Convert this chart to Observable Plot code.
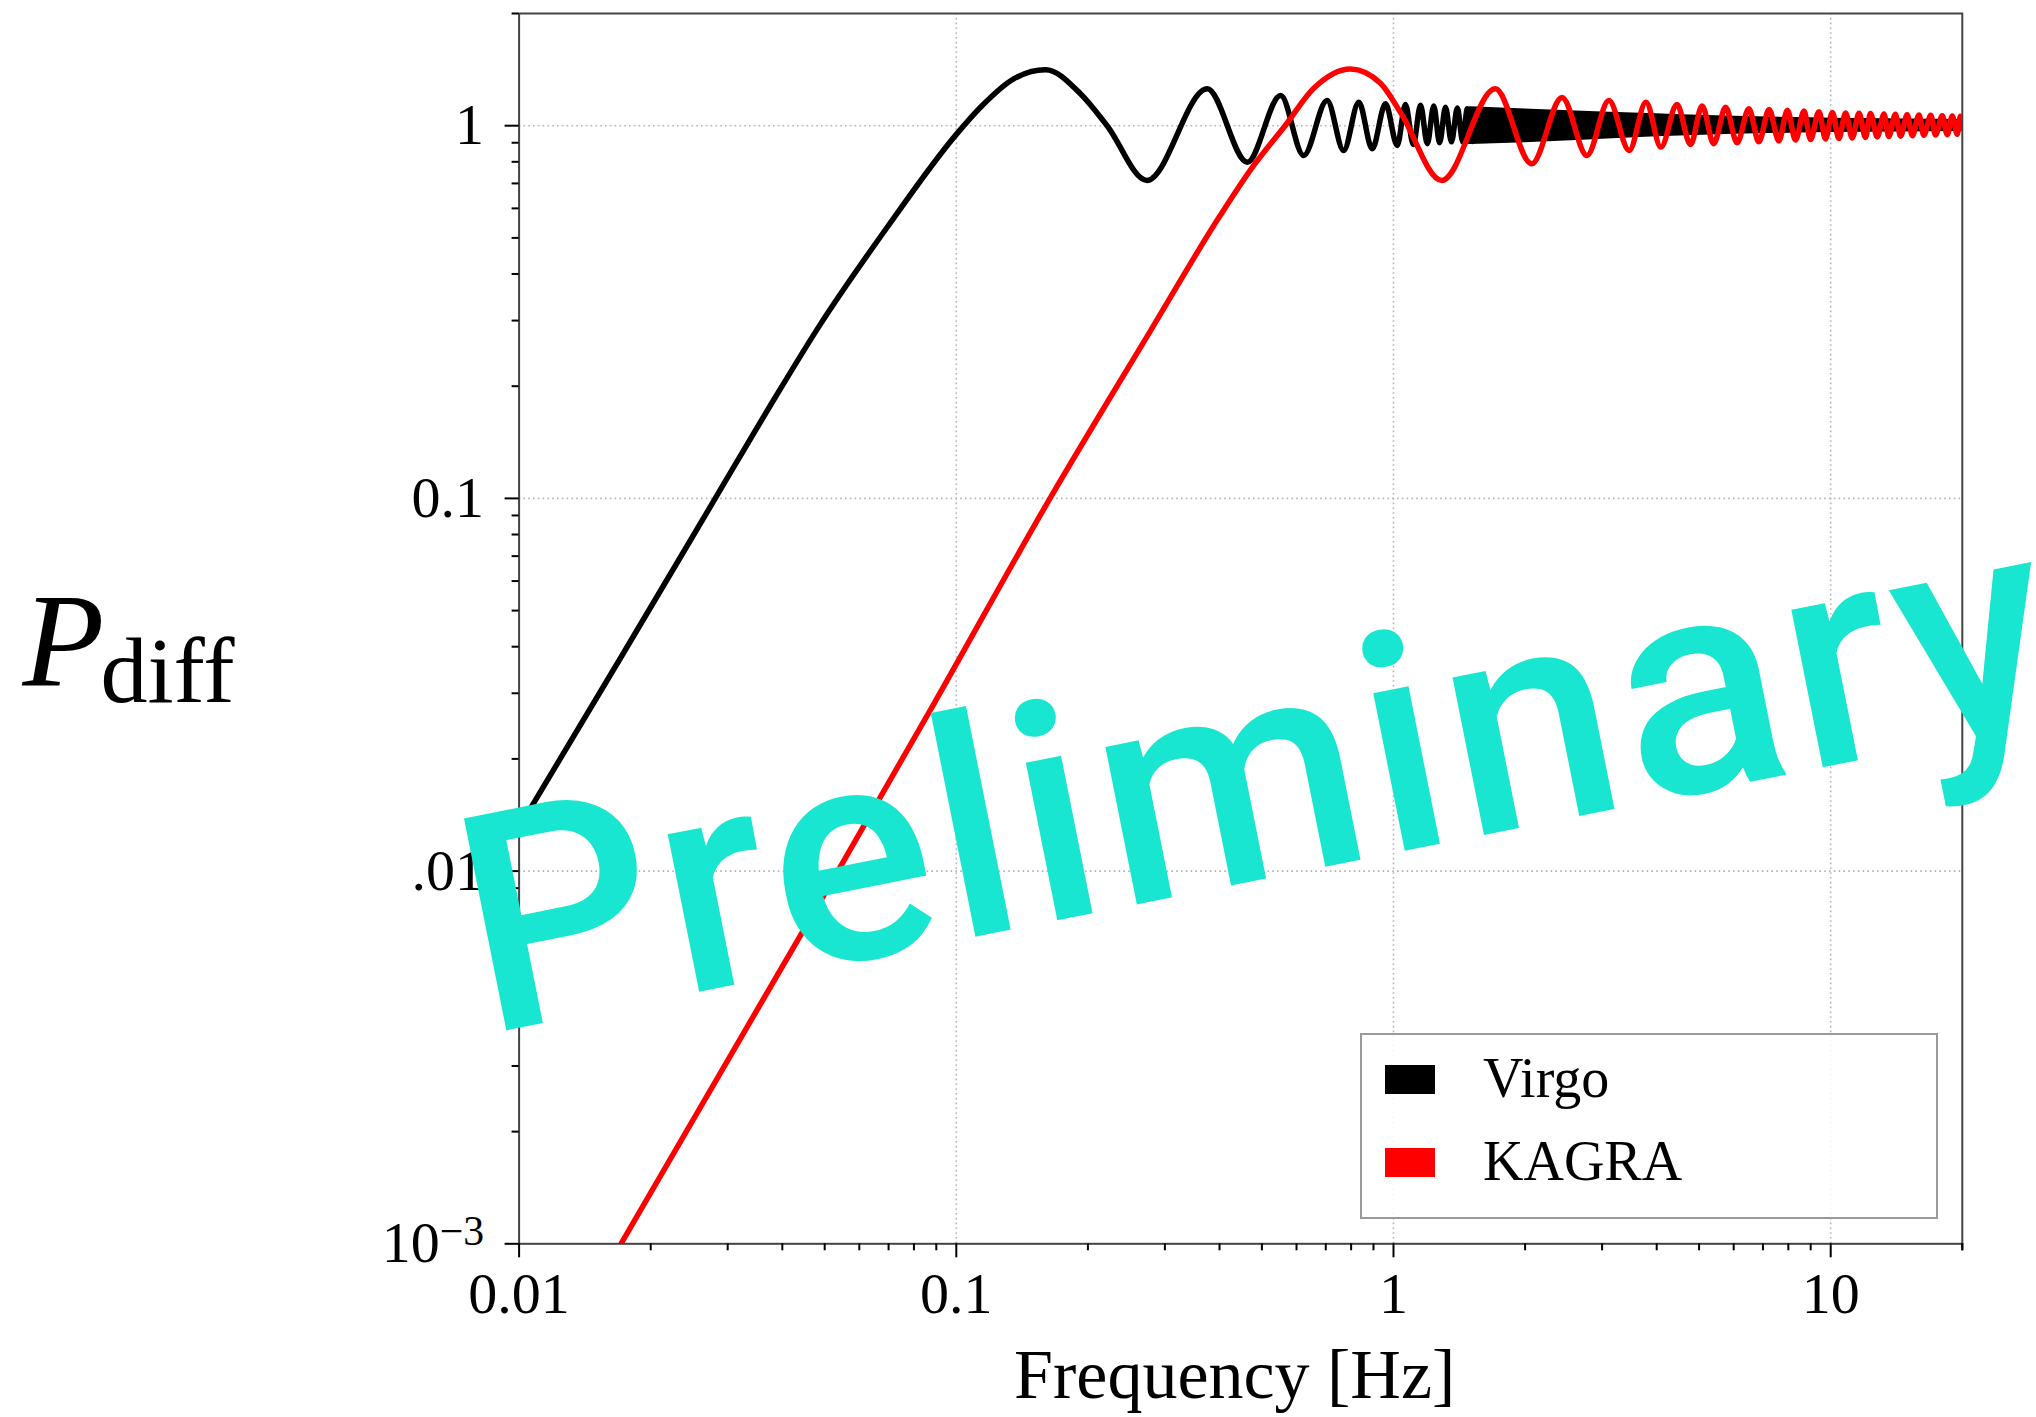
<!DOCTYPE html>
<html>
<head>
<meta charset="utf-8">
<script src="https://cdn.jsdelivr.net/npm/d3@7"></script>
<script src="https://cdn.jsdelivr.net/npm/@observablehq/plot@0.6"></script>
<style>
  html, body { margin: 0; padding: 0; background: #fff; overflow: hidden; }
  #chart { position: relative; width: 2036px; height: 1417px; }
  #chart svg { display: block; }
</style>
</head>
<body>
<div id="chart"></div>
<script>
// ---------------- data ----------------
// Virgo (black): frequency [Hz] and P_diff
const virgoF = [0.01, 0.01706, 0.02838, 0.0375, 0.0489, 0.0695, 0.0998, 0.1136, 0.1353, 0.160,
  0.1923, 0.2213, 0.273, 0.375, 0.463, 0.552, 0.623, 0.705, 0.769, 0.833,
  0.894, 0.959, 1.02, 1.065, 1.11, 1.153, 1.195, 1.236, 1.275, 1.315,
  1.357, 1.40, 1.44, 1.475, 1.515, 1.553];
const virgoP = [0.0131, 0.0373, 0.102, 0.177, 0.2935, 0.534, 0.945, 1.121, 1.336, 1.413,
  1.218, 1.0, 0.713, 1.256, 0.798, 1.205, 0.832, 1.169, 0.858, 1.156,
  0.867, 1.145, 0.885, 1.14, 0.89, 1.135, 0.895, 1.13, 0.90, 1.12,
  0.905, 1.115, 0.905, 1.11, 0.907, 1.105];
// Virgo dense-oscillation band (upper / lower envelope of the line)
const virgoBandF  = [1.5, 2, 3, 4, 6, 10, 20];
const virgoBandHi = [1.105, 1.09, 1.07, 1.058, 1.042, 1.03, 1.022];
const virgoBandLo = [0.905, 0.915, 0.935, 0.95, 0.965, 0.975, 0.982];

// KAGRA (red)
const kagraF = [0.0171, 0.0536, 0.089, 0.1638, 0.2776, 0.401, 0.478, 0.565, 0.657, 0.797,
  0.934, 1.037, 1.29, 1.71, 2.07, 2.43, 2.77, 3.11, 3.46, 3.78,
  4.09, 4.45, 4.78, 5.08, 5.40, 5.75, 6.11, 6.50, 6.85, 7.23,
  7.61, 7.96, 8.31, 8.69, 8.99, 9.40, 9.73, 10.09, 10.44, 10.82,
  11.20, 11.61, 12.01, 12.33, 12.78, 13.24, 13.58, 14.06, 14.45, 14.96,
  15.37, 15.92, 16.33, 16.94, 17.37, 18.0, 18.47, 18.97, 19.47, 19.8, 20];
const kagraP = [0.001, 0.01, 0.0282, 0.1, 0.2807, 0.573, 0.78, 1.0, 1.26, 1.42,
  1.30, 1.087, 0.713, 1.256, 0.79, 1.19, 0.832, 1.168, 0.858, 1.156,
  0.876, 1.14, 0.89, 1.13, 0.895, 1.12, 0.90, 1.11, 0.905, 1.105,
  0.91, 1.10, 0.915, 1.095, 0.918, 1.09, 0.921, 1.085, 0.924, 1.082,
  0.927, 1.08, 0.93, 1.078, 0.933, 1.075, 0.935, 1.073, 0.937, 1.07,
  0.94, 1.068, 0.942, 1.066, 0.944, 1.064, 0.946, 1.062, 0.948, 1.06, 1.0];

// series, ticks, labels
const seriesNames  = ["Virgo", "KAGRA"];
const seriesColors = ["#000000", "#ff0000"];
const xMajorTicks  = [0.01, 0.1, 1, 10];
const xTickLabels  = ["0.01", "0.1", "1", "10"];
const yMajorTicks  = [0.001, 0.01, 0.1, 1];
const yTickLabels  = ["10^-3", ".01", "0.1", "1"];
const xLabel = "Frequency [Hz]";
const yLabelMain = "P";
const yLabelSub = "diff";
const watermark = [{text: "Preliminary", f: 0.00835, p: 0.00364}];

// ---------------- build tables ----------------
const virgo = virgoF.map((f, i) => ({f, p: virgoP[i]}));
const kagra = kagraF.map((f, i) => ({f, p: kagraP[i]}));
const virgoBand = virgoBandF.map((f, i) => ({f, hi: virgoBandHi[i], lo: virgoBandLo[i]}));

const xMinorTicks = [];
for (const d of [0.01, 0.1, 1, 10]) for (let k = 2; k <= 9; k++) { const v = +(k * d).toPrecision(3); if (v <= 20) xMinorTicks.push(v); }
xMinorTicks.push(20);
const yMinorTicks = [];
for (const d of [0.001, 0.01, 0.1, 1]) for (let k = 2; k <= 9; k++) { const v = +(k * d).toPrecision(3); if (v <= 2) yMinorTicks.push(v); }

const xLabelMap = new Map(xMajorTicks.map((t, i) => [t, xTickLabels[i]]));
const yLabelMap = new Map(yMajorTicks.map((t, i) => [t, yTickLabels[i]]));

const serif = "'Liberation Serif', 'DejaVu Serif', serif";
const gridStyle = {stroke: "#b4b4b4", strokeOpacity: 1, strokeWidth: 1.6, strokeDasharray: "1.6,3.2"};
const lineW = 5.5;

const plot = Plot.plot({
  width: 2036,
  height: 1417,
  marginLeft: 518.6,
  marginRight: 74.2,
  marginTop: 13,
  marginBottom: 173.7,
  x: {type: "log", domain: [0.01, 20]},
  y: {type: "log", domain: [0.001, 2]},
  style: {fontFamily: serif, color: "#000", background: "#fff", overflow: "visible"},
  marks: [
    Plot.gridX({ticks: xMajorTicks, ...gridStyle}),
    Plot.gridY({ticks: yMajorTicks, ...gridStyle}),
    Plot.areaY(virgoBand, {x: "f", y1: "lo", y2: "hi", fill: seriesColors[0], stroke: seriesColors[0],
      strokeWidth: lineW, curve: "monotone-x", clip: true}),
    Plot.line(virgo, {x: "f", y: "p", stroke: seriesColors[0], strokeWidth: lineW, curve: "monotone-x", clip: true}),
    Plot.line(kagra, {x: "f", y: "p", stroke: seriesColors[1], strokeWidth: lineW, curve: "monotone-x", clip: true}),
    Plot.frame({stroke: "#444", strokeWidth: 2}),
    Plot.axisX({ticks: xMajorTicks, tickSize: 14, tickPadding: 14, strokeWidth: 2, fontSize: 58,
      tickFormat: d => xLabelMap.get(d), label: null}),
    Plot.axisX({ticks: xMinorTicks, tickSize: 7, strokeWidth: 2, tickFormat: () => "", label: null}),
    Plot.axisY({ticks: yMajorTicks, tickSize: 14, tickPadding: 21, strokeWidth: 2, fontSize: 58,
      tickFormat: d => yLabelMap.get(d), label: null}),
    Plot.axisY({ticks: yMinorTicks, tickSize: 7, strokeWidth: 2, tickFormat: () => "", label: null}),
    Plot.text([xLabel], {frameAnchor: "bottom", dx: -6, dy: 154, lineAnchor: "bottom", fontSize: 70, fontFamily: serif}),
    Plot.text([yLabelMain], {frameAnchor: "left", dx: 22 - 518.6, dy: 56, textAnchor: "start", lineAnchor: "bottom",
      fontSize: 134, fontStyle: "italic", fontFamily: serif}),
    Plot.text([yLabelSub], {frameAnchor: "left", dx: 100 - 518.6, dy: 73, textAnchor: "start", lineAnchor: "bottom",
      fontSize: 94, fontFamily: serif}),
    Plot.text(watermark, {x: "f", y: "p", text: "text", rotate: -11.3, textAnchor: "start", lineAnchor: "bottom",
      fontSize: 304, fontWeight: 500, fontFamily: "Roboto, 'Liberation Sans', Arial, sans-serif", fill: "#19e6d0"})
  ]
});

const svg = d3.select(plot);

// superscript exponent for the 10^-3 tick label
svg.selectAll("text").filter(function () { return this.textContent === "10^-3"; }).each(function () {
  const t = d3.select(this);
  t.text("10");
  t.append("tspan").attr("dy", "-0.42em").attr("font-size", "0.72em").text("\u22123");
});

// watermark letter spacing
svg.selectAll("text").filter(function () { return this.textContent === "Preliminary"; })
  .attr("letter-spacing", 6);

// ---------------- legend (inside the axes, lower right) ----------------
const lg = svg.append("g").attr("class", "legend").attr("text-anchor", "start");
lg.append("rect").attr("x", 1361).attr("y", 1034).attr("width", 576).attr("height", 184)
  .attr("fill", "#fff").attr("fill-opacity", 0.85).attr("stroke", "#999").attr("stroke-width", 2);
seriesNames.forEach((name, i) => {
  lg.append("rect").attr("x", 1385).attr("y", 1065 + i * 83).attr("width", 50).attr("height", 29)
    .attr("fill", seriesColors[i]);
  lg.append("text").attr("x", 1483).attr("y", 1097 + i * 83).attr("font-family", serif)
    .attr("text-anchor", "start").attr("font-size", 56).attr("fill", "#000").text(name);
});
// keep the watermark on top of everything
svg.selectAll("text").filter(function () { return this.textContent === "Preliminary"; })
  .each(function () { const g = this.closest("g[aria-label]") || this; g.parentNode.appendChild(g); });

document.getElementById("chart").appendChild(plot);
</script>
</body>
</html>
